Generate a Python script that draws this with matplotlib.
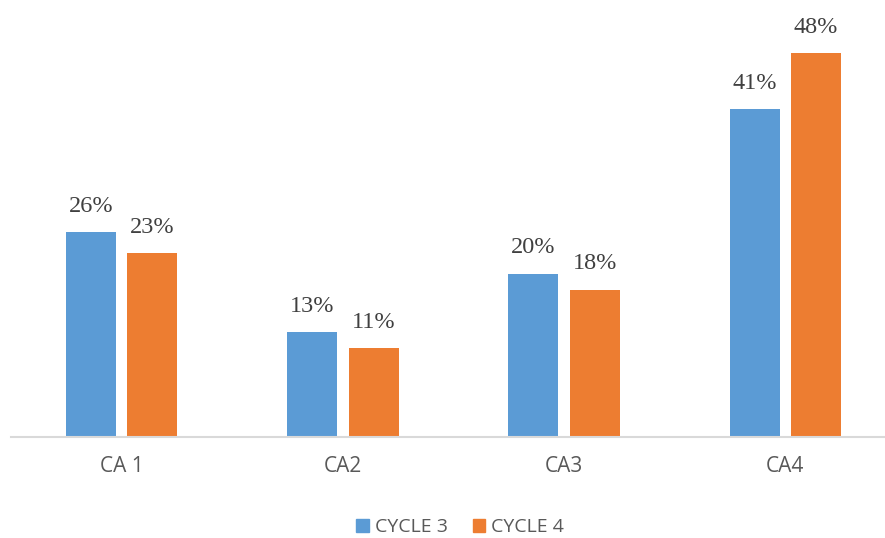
import numpy as np
import matplotlib.pyplot as plt
from matplotlib.patches import Patch

categories = ['CA 1', 'CA2', 'CA3', 'CA4']
cycle3 = [25.6, 13.1, 20.4, 41.0]
cycle4 = [23.0, 11.1, 18.4, 48.0]
series_names = ['CYCLE 3', 'CYCLE 4']

blue = '#5B9BD5'
orange = '#ED7D31'

fig = plt.figure(figsize=(8.85, 5.38), dpi=100)
ax = fig.add_axes([0.0123, 0.1877, 0.9877, 0.8123])

x = np.arange(len(categories))
w = 0.226
off = 0.139
b1 = ax.bar(x - off, cycle3, w, color=blue)
b2 = ax.bar(x + off, cycle4, w, color=orange)

# data labels above each bar
for bars, vals in [(b1, cycle3), (b2, cycle4)]:
    for rect, v in zip(bars, vals):
        ax.annotate(f'{v:.0f}%', (rect.get_x() + rect.get_width() / 2, rect.get_height()),
                    xytext=(0, 11), textcoords='offset points', ha='center', va='bottom',
                    fontsize=17.5, color='#404040', family='Liberation Serif')

ax.set_xlim(-0.5, 3.45)
ax.set_ylim(0, 54.6)
ax.set_yticks([])
ax.set_xticks(x)
ax.set_xticklabels(categories, fontsize=15, color='#595959', family='Open Sans')
ax.tick_params(axis='x', length=0, pad=14)
for s in ['top', 'right', 'left']:
    ax.spines[s].set_visible(False)
ax.spines['bottom'].set_color('#D9D9D9')
ax.spines['bottom'].set_linewidth(1.5)

handles = [Patch(color=blue), Patch(color=orange)]
fig.legend(handles, series_names, loc='center', bbox_to_anchor=(0.52, 0.02),
           ncol=2, frameon=False, handlelength=0.65, handleheight=0.7,
           handletextpad=0.3, columnspacing=1.3,
           prop={'family': 'Open Sans', 'size': 14}, labelcolor='#595959')

fig.savefig('out.png', dpi=100)
